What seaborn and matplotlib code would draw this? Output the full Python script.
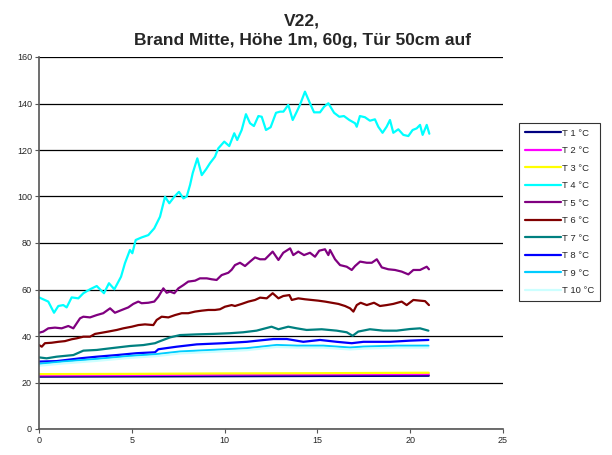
import numpy as np
import pandas as pd
import matplotlib
matplotlib.use("Agg")
import matplotlib.pyplot as plt
import seaborn as sns

title = "V22,\nBrand Mitte, Höhe 1m, 60g, Tür 50cm auf"
labels = ["T 1 °C", "T 2 °C", "T 3 °C", "T 4 °C", "T 5 °C",
          "T 6 °C", "T 7 °C", "T 8 °C", "T 9 °C", "T 10 °C"]
colors = ["#000080", "#FF00FF", "#FFFF00", "#00FFFF", "#800080",
          "#800000", "#008080", "#0000FF", "#00CCFF", "#CCFFFF"]

t1_x = [0, 5, 10, 15, 21]
t1_y = [22.5, 22.6, 22.7, 22.8, 22.9]
t2_x = [0, 5, 10, 15, 21]
t2_y = [23.1, 23.2, 23.4, 23.5, 23.6]
t3_x = [0, 5, 10, 15, 21]
t3_y = [23.6, 23.7, 23.9, 24.0, 24.2]

t4_x = [0, 0.5, 0.81, 1.04, 1.31, 1.49, 1.76, 2.12, 2.39, 2.75, 3.11, 3.5, 3.77,
        4.06, 4.42, 4.63, 4.9, 5.03, 5.21, 5.53, 5.89, 6.21, 6.52, 6.79, 7.02,
        7.29, 7.54, 7.78, 7.96, 8.14, 8.28, 8.53, 8.77, 9.0, 9.21, 9.48, 9.66,
        9.98, 10.25, 10.52, 10.68, 10.92, 11.15, 11.37, 11.58, 11.82, 12.0,
        12.23, 12.48, 12.77, 12.99, 13.17, 13.43, 13.67, 13.89, 14.06, 14.33,
        14.6, 14.82, 15.14, 15.36, 15.59, 15.9, 16.18, 16.43, 16.72, 17.03,
        17.12, 17.29, 17.56, 17.83, 18.1, 18.28, 18.51, 18.73, 18.91, 19.09,
        19.36, 19.63, 19.9, 20.13, 20.35, 20.53, 20.67, 20.89, 21.03]
t4_y = [56.6, 54.8, 50.0, 52.9, 53.3, 52.3, 56.6, 56.2, 58.4, 60.1, 61.5, 58.4, 62.7,
        60.1, 65.5, 71.3, 77.0, 75.6, 81.3, 82.4, 83.4, 86.3, 91.3, 99.9, 97.1,
        99.9, 102.0, 99.2, 100.0, 105.0, 110.0, 116.4, 109.2, 111.7, 114.3, 117.1, 120.7,
        123.6, 121.7, 127.2, 124.3, 128.6, 135.4, 131.5, 130.3, 134.6, 134.3,
        128.6, 129.8, 136.0, 136.5, 136.5, 139.4, 132.9, 136.5, 139.4, 145.1,
        140.1, 136.2, 136.2, 138.6, 140.1, 136.0, 134.3, 134.6, 132.9, 131.5,
        130.0, 134.6, 134.1, 132.6, 133.2, 130.0, 127.4, 130.0, 132.9, 127.4,
        128.9, 126.5, 126.0, 128.6, 129.3, 130.8, 126.5, 130.8, 127.0]

t5_x = [0, 0.23, 0.5, 0.86, 1.22, 1.58, 1.85, 2.21, 2.39, 2.75, 3.11, 3.46, 3.83,
        4.09, 4.46, 4.81, 5.08, 5.35, 5.53, 5.89, 6.21, 6.43, 6.7, 6.88, 7.06,
        7.29, 7.51, 7.78, 8.04, 8.41, 8.67, 9.04, 9.3, 9.57, 9.84, 10.2, 10.38,
        10.56, 10.83, 11.1, 11.37, 11.64, 11.91, 12.18, 12.59, 12.9, 13.16, 13.53,
        13.7, 13.97, 14.28, 14.6, 14.87, 15.1, 15.41, 15.59, 15.68, 15.95, 16.22,
        16.58, 16.85, 17.03, 17.3, 17.66, 17.93, 18.2, 18.47, 18.82, 19.18, 19.54,
        19.9, 20.17, 20.53, 20.89, 21.01]
t5_y = [41.4, 41.9, 43.3, 43.6, 43.3, 44.3, 43.3, 47.6, 48.3, 48.0, 49.0, 49.8, 51.9,
        50.0, 51.2, 52.3, 53.8, 54.8, 54.1, 54.3, 54.8, 56.9, 60.5, 58.6, 59.1,
        58.4, 60.5, 61.9, 63.4, 63.8, 64.8, 64.8, 64.4, 64.1, 66.2, 67.2, 68.5,
        70.5, 71.5, 70.1, 72.0, 73.8, 73.0, 73.0, 76.3, 72.7, 75.8, 77.7,
        74.8, 76.3, 74.8, 75.8, 74.1, 76.7, 77.3, 74.8, 77.0, 73.0, 70.5,
        69.8, 68.4, 70.1, 72.0, 71.5, 71.5, 73.0, 69.5, 68.7, 68.4, 67.7,
        66.5, 68.4, 68.4, 69.8, 68.7]

t6_x = [0, 0.15, 0.32, 0.68, 1.04, 1.4, 1.76, 2.03, 2.39, 2.75, 3.02, 3.38, 3.73,
        4.19, 4.54, 5.0, 5.35, 5.71, 6.16, 6.34, 6.61, 6.97, 7.33, 7.69, 8.04,
        8.41, 8.77, 9.12, 9.48, 9.75, 10.02, 10.38, 10.56, 10.92, 11.28, 11.64,
        11.91, 12.27, 12.59, 12.9, 13.16, 13.49, 13.62, 13.97, 14.33, 14.69,
        15.05, 15.41, 15.77, 16.13, 16.49, 16.76, 16.94, 17.12, 17.33, 17.66,
        18.05, 18.37, 18.73, 19.09, 19.54, 19.81, 20.17, 20.53, 20.8, 21.01]
t6_y = [36.1, 35.4, 36.9, 37.1, 37.5, 37.8, 38.6, 39.0, 39.7, 39.7, 40.9, 41.4, 41.9,
        42.6, 43.3, 44.0, 44.7, 45.0, 44.7, 46.9, 48.3, 48.0, 49.0, 49.8, 49.8,
        50.5, 50.9, 51.2, 51.2, 51.5, 52.6, 53.3, 52.9, 53.8, 54.8, 55.5,
        56.5, 56.2, 58.4, 56.2, 57.2, 57.6, 55.5, 56.2, 55.8, 55.5,
        55.2, 54.8, 54.3, 53.8, 52.9, 51.9, 50.5, 53.3, 54.3, 53.3,
        54.3, 52.9, 53.3, 53.8, 54.8, 53.3, 55.5, 55.2, 55.0, 53.3]

t7_x = [0, 0.41, 0.95, 1.85, 2.39, 3.11, 3.83, 4.9, 5.62, 6.25, 6.43, 7.06, 7.6,
        8.5, 9.39, 10.29, 11.0, 11.72, 12.53, 12.9, 13.43, 13.89, 14.42, 15.23,
        16.04, 16.58, 16.9, 17.2, 17.83, 18.55, 19.27, 19.99, 20.53, 20.98]
t7_y = [30.8, 30.4, 31.1, 31.8, 33.7, 34.0, 34.7, 35.7, 36.1, 36.9, 37.5, 39.4, 40.4,
        40.7, 40.9, 41.2, 41.6, 42.3, 44.0, 42.9, 44.0, 43.3, 42.6, 42.9,
        42.3, 41.6, 40.1, 41.9, 42.9, 42.3, 42.3, 43.0, 43.3, 42.3]

t8_x = [0, 0.95, 2.21, 3.11, 4.19, 5.26, 6.25, 6.43, 7.42, 8.5, 9.93, 11.19, 12.63,
        13.35, 14.24, 15.14, 16.04, 16.85, 17.48, 18.91, 19.99, 20.98]
t8_y = [29.0, 29.2, 30.4, 31.1, 31.8, 32.6, 33.0, 34.3, 35.4, 36.4, 36.9, 37.5, 38.7,
        38.7, 37.5, 38.3, 37.5, 36.9, 37.5, 37.5, 38.0, 38.3]

t9_x = [0, 1.31, 3.11, 4.9, 6.25, 7.6, 9.39, 11.19, 12.81, 13.89, 15.32, 16.76,
        17.48, 19.27, 20.98]
t9_y = [28.0, 29.0, 30.1, 31.4, 32.1, 33.3, 34.0, 34.7, 36.1, 35.8, 35.8, 35.0,
        35.4, 35.8, 35.8]

t10_x = [0, 1.31, 3.11, 4.9, 6.25, 7.6, 9.39, 11.19, 12.81, 13.89, 15.32, 16.76,
         17.48, 19.27, 20.98]
t10_y = [27.2, 28.2, 29.3, 30.6, 31.3, 32.5, 33.2, 33.9, 35.3, 35.0, 35.0, 34.2,
         34.6, 35.0, 35.0]

xs = [t1_x, t2_x, t3_x, t4_x, t5_x, t6_x, t7_x, t8_x, t9_x, t10_x]
ys = [t1_y, t2_y, t3_y, t4_y, t5_y, t6_y, t7_y, t8_y, t9_y, t10_y]

frames = []
for lab, x, y in zip(labels, xs, ys):
    frames.append(pd.DataFrame({"x": x, "y": y, "series": lab}))
df = pd.concat(frames, ignore_index=True)

sns.set_style("white")
plt.rcParams['font.family'] = ['Liberation Sans', 'DejaVu Sans']

fig = plt.figure(figsize=(6.12, 4.55), dpi=100)
ax = fig.add_axes([39/612, 1-429/455, (503-39)/612, (429-57)/455])

sns.lineplot(data=df, x="x", y="y", hue="series", hue_order=labels,
             palette=dict(zip(labels, colors)), sort=False, estimator=None,
             linewidth=1.6, ax=ax, legend=True)

ax.set_xlim(0, 25)
ax.set_ylim(0, 160)
ax.set_xticks([0, 5, 10, 15, 20, 25])
ax.set_yticks(np.arange(0, 161, 20))
ax.yaxis.grid(True, color="black", linewidth=0.9)
ax.xaxis.grid(False)
ax.set_axisbelow(True)
ax.set_xlabel("")
ax.set_ylabel("")
for s in ["top", "right"]:
    ax.spines[s].set_visible(False)
ax.spines["left"].set_color("#555555")
ax.spines["bottom"].set_color("#555555")
ax.spines["left"].set_linewidth(1.2)
ax.spines["bottom"].set_linewidth(1.2)
ax.tick_params(axis="both", which="major", labelsize=6.5, length=3,
               direction="out", color="#555555", left=True, bottom=True, pad=2)

handles, labs = ax.get_legend_handles_labels()
leg = ax.legend(handles, labs, loc="upper left",
                bbox_to_anchor=(519/612, 1-123/455), bbox_transform=fig.transFigure,
                frameon=True, fontsize=6.8, handlelength=3.8, labelspacing=0.9,
                borderpad=0.6, handletextpad=0.2, fancybox=False, borderaxespad=0)
leg.get_frame().set_edgecolor("black")
leg.get_frame().set_linewidth(0.8)

fig.text(302/612, 1-13/455, title, ha="center", va="top", fontsize=12.5,
         fontweight="bold", linespacing=1.45)

fig.savefig("out.png", dpi=100, facecolor="white")
